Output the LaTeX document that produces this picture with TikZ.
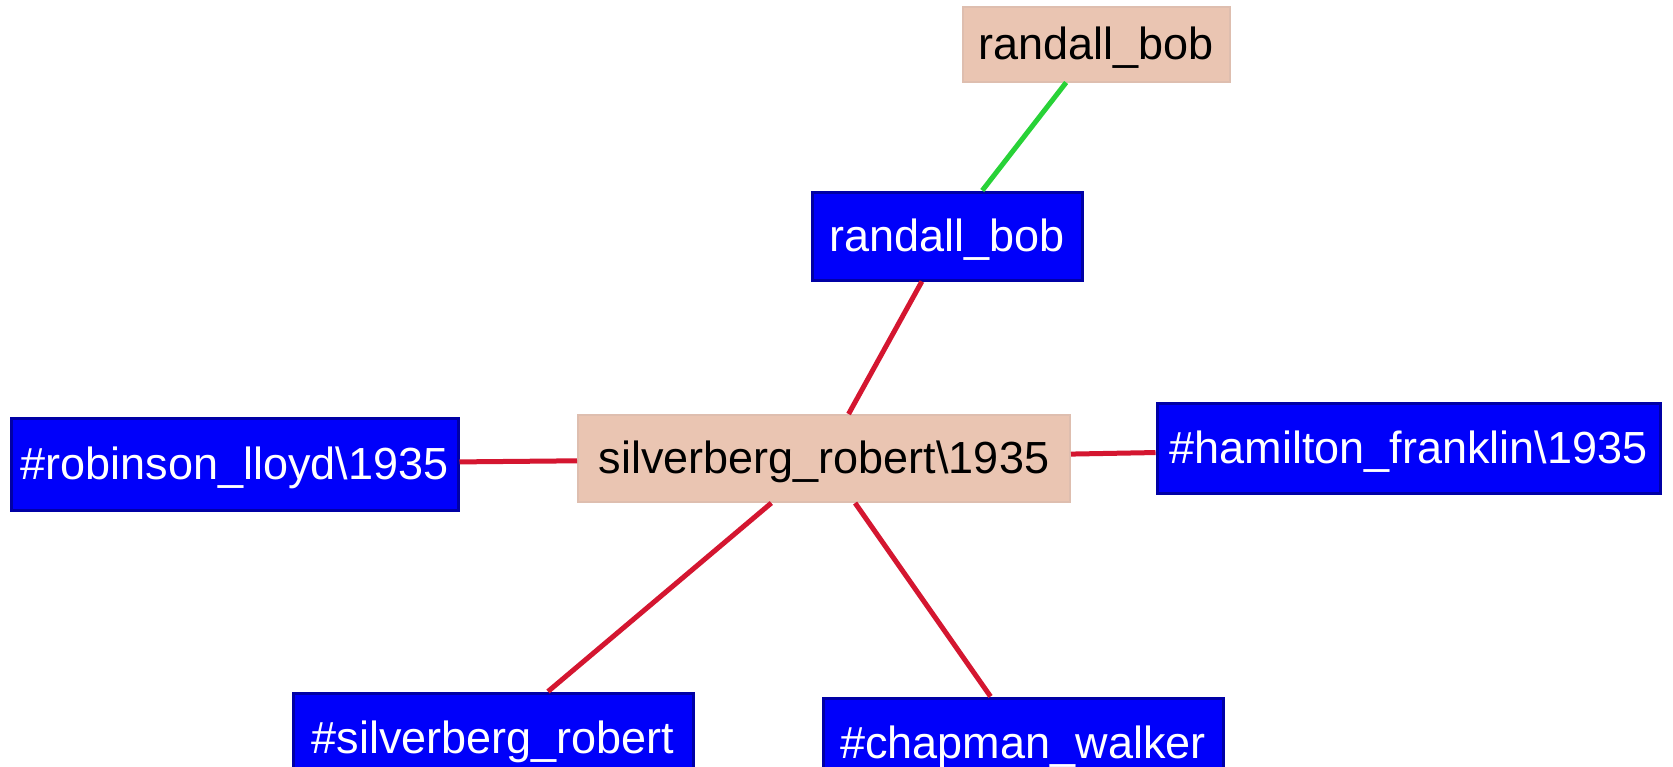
\documentclass[tikz,border=0pt]{standalone}
\usepackage{fontspec}
\setmainfont{Liberation Sans}
\definecolor{peach}{RGB}{234,197,178}
\definecolor{peachedge}{RGB}{222,190,175}
\definecolor{nodeblue}{RGB}{0,0,250}
\definecolor{navy}{RGB}{0,0,165}
\definecolor{linkred}{RGB}{212,22,48}
\definecolor{linkgreen}{RGB}{40,210,55}
\begin{document}
\begin{tikzpicture}[x=1pt,y=-1pt,
  lbl/.style={rectangle, inner sep=0pt, font=\fontsize{45}{54}\selectfont,
    text height=35pt, text depth=5pt},
  author/.style={lbl, fill=peach, draw=peachedge, line width=2pt, text=black},
  ref/.style={lbl, fill=nodeblue, draw=navy, line width=3pt, text=white},
  link/.style={draw=linkred, line width=5pt},
  alias/.style={draw=linkgreen, line width=5pt}]
\useasboundingbox (0,0) rectangle (1673,766);
\fill[white] (0,0) rectangle (1673,766);

% nodes
\node[author, minimum width=267pt, minimum height=75pt] (alias) at (1096,44) {randall\_bob};
\node[ref, minimum width=270pt, minimum height=88pt] (randall) at (947,236) {randall\_bob};
\node[author, minimum width=492pt, minimum height=87pt] (center) at (824,458.5) {silverberg\_robert\textbackslash 1935};
\node[ref, minimum width=447pt, minimum height=92pt] (robinson) at (234.5,464) {\#robinson\_lloyd\textbackslash 1935};
\node[ref, minimum width=503pt, minimum height=90pt] (hamilton) at (1408.5,448) {\#hamilton\_franklin\textbackslash 1935};
\node[ref, minimum width=400pt, minimum height=90pt] (silver) at (493,738) {\#silverberg\_robert};
\node[ref, minimum width=400pt, minimum height=90pt] (chapman) at (1023,743) {\#chapman\_walker};

% connectors
\draw[alias] (alias) -- (randall);
\draw[link] (randall) -- (center);
\draw[link] (robinson) -- (center);
\draw[link] (center) -- (hamilton);
\draw[link] (center) -- (silver);
\draw[link] (center) -- (chapman);
\end{tikzpicture}
\end{document}
